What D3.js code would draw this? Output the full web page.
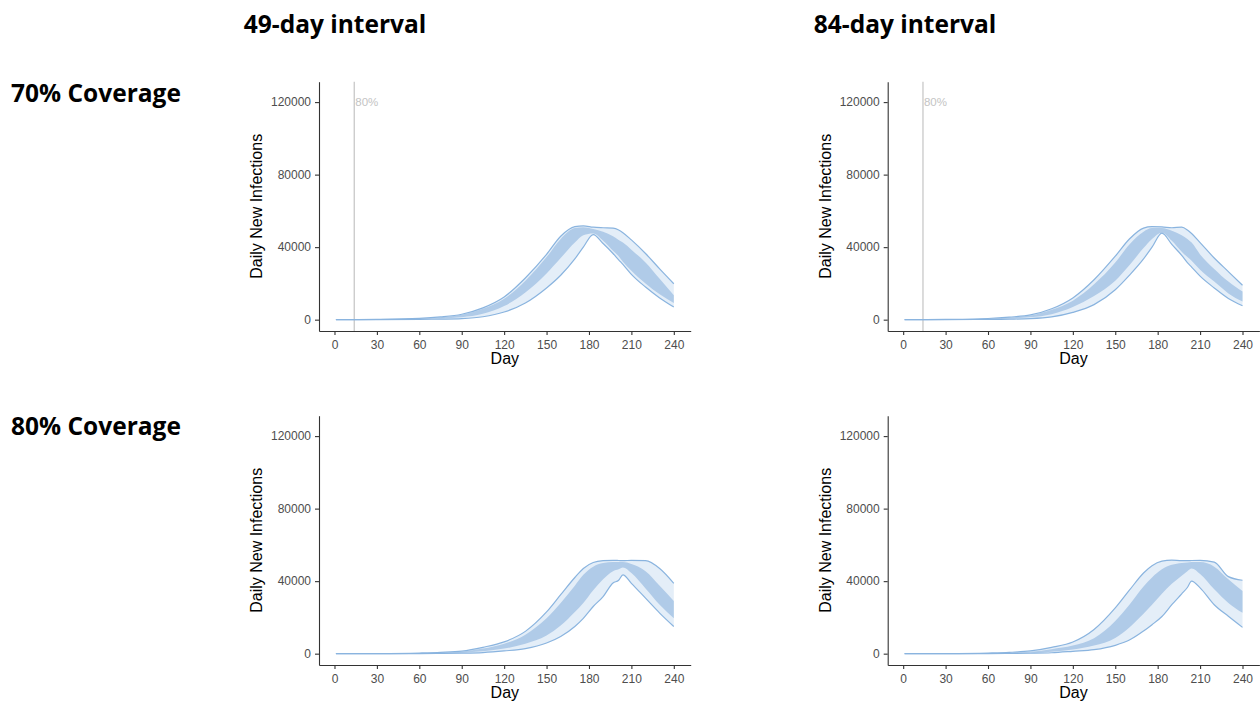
<!DOCTYPE html>
<html>
<head>
<meta charset="utf-8">
<script src="https://cdn.jsdelivr.net/npm/d3@7"></script>
<style>
  body { margin: 0; background: #fff; }
  svg { display: block; }
</style>
</head>
<body>
<div id="chart"></div>
<script>
// day grid shared by all panels
const days = [1, 30, 60, 75, 90, 105, 120, 135, 150, 160, 170, 176, 183, 190, 197, 201, 204, 210, 220, 230, 240]

const colTitles = ["49-day interval", "84-day interval"]
const rowTitles = ["70% Coverage", "80% Coverage"]
const xTicks = [0, 30, 60, 90, 120, 150, 180, 210, 240]
const yTicks = [0, 40000, 80000, 120000]
const markerDay = 14
const markerLabel = "80%"

// 70% coverage, 49-day interval
const c70i49OuterHi = [0, 150, 700, 1500, 3000, 6500, 12500, 23000, 36000, 46000, 51300, 51700, 51000, 50700, 50500, 49500, 48000, 44000, 36500, 28000, 19800]
const c70i49OuterLo = [0, 30, 150, 300, 600, 1600, 4200, 9200, 17500, 24500, 33500, 40000, 46900, 42000, 36500, 33000, 30500, 25000, 18000, 12000, 7000]
const c70i49InnerHi = [0, 120, 600, 1300, 2700, 6000, 11500, 21500, 34500, 44500, 50500, 51000, 50000, 48500, 46000, 44000, 42500, 38600, 31500, 22500, 13400]
const c70i49InnerLo = [0, 60, 300, 600, 1300, 3200, 7500, 15000, 25500, 34000, 42500, 46500, 47500, 43500, 38000, 35000, 32000, 27000, 20000, 14000, 9200]

// 70% coverage, 84-day interval
const c70i84OuterHi = [0, 150, 650, 1400, 2600, 6000, 12000, 22000, 35000, 44500, 50500, 51300, 51200, 50700, 51000, 49500, 47500, 42500, 34000, 26500, 19000]
const c70i84OuterLo = [0, 30, 140, 280, 550, 1500, 4000, 8300, 16500, 24500, 33500, 40000, 47700, 41500, 35500, 31500, 29000, 24000, 17500, 11700, 7700]
const c70i84InnerHi = [0, 110, 550, 1200, 2300, 5500, 10500, 19500, 31500, 41500, 48500, 50500, 50500, 49000, 46500, 44500, 42500, 36000, 28000, 21000, 15500]
const c70i84InnerLo = [0, 60, 300, 650, 1300, 3000, 7000, 13000, 21500, 30000, 39500, 44500, 48000, 43500, 37500, 34500, 32500, 27500, 21000, 14500, 10000]

// 80% coverage, 49-day interval
const c80i49OuterHi = [0, 60, 350, 700, 1400, 3500, 6500, 12300, 23000, 32500, 42000, 47000, 50300, 51300, 51500, 51400, 51300, 51500, 51300, 47000, 38800]
const c80i49OuterLo = [0, 10, 60, 120, 250, 600, 1500, 2800, 5900, 9500, 15000, 19500, 26000, 31500, 39000, 40500, 43500, 38800, 30600, 22400, 15000]
const c80i49InnerHi = [0, 40, 250, 500, 1100, 2800, 5500, 10500, 19500, 28000, 37500, 43500, 48000, 50000, 50500, 50500, 50500, 49500, 45500, 37500, 29000]
const c80i49InnerLo = [0, 20, 120, 250, 550, 1300, 2800, 5500, 10000, 15500, 23000, 28000, 35000, 41000, 45500, 46500, 47500, 44500, 36000, 27000, 19500]

// 80% coverage, 84-day interval
const c80i84OuterHi = [0, 60, 350, 700, 1500, 3500, 6400, 13300, 25200, 35000, 44500, 48500, 51000, 51600, 51300, 51300, 51400, 51500, 50500, 42500, 40500]
const c80i84OuterLo = [0, 10, 50, 100, 220, 500, 1300, 2200, 4600, 7500, 12500, 16000, 20500, 27000, 33000, 36500, 40000, 36300, 27000, 20600, 14500]
const c80i84InnerHi = [0, 40, 250, 500, 1000, 2500, 4500, 8500, 18000, 27000, 37000, 42000, 46500, 49000, 50000, 50300, 50500, 50500, 48000, 41000, 34500]
const c80i84InnerLo = [0, 15, 90, 200, 450, 1100, 2300, 4500, 8700, 14500, 22000, 27000, 33000, 38500, 43000, 45500, 47000, 44000, 35500, 28000, 22500]

const panels = [
  {row: 0, col: 0, marker: true, oHi: c70i49OuterHi, oLo: c70i49OuterLo, iHi: c70i49InnerHi, iLo: c70i49InnerLo},
  {row: 0, col: 1, marker: true, oHi: c70i84OuterHi, oLo: c70i84OuterLo, iHi: c70i84InnerHi, iLo: c70i84InnerLo},
  {row: 1, col: 0, marker: false, oHi: c80i49OuterHi, oLo: c80i49OuterLo, iHi: c80i49InnerHi, iLo: c80i49InnerLo},
  {row: 1, col: 1, marker: false, oHi: c80i84OuterHi, oLo: c80i84OuterLo, iHi: c80i84InnerHi, iLo: c80i84InnerLo},
]

const W = 1260, H = 702
const PW = 371.7, PH = 249.3          // panel plot size
const PX = [319, 887.7], PY = [81.7, 415.7]

const svg = d3.select("#chart").append("svg")
  .attr("width", W).attr("height", H)

// column and row titles
const titleFont = "'Open Sans', Lato, sans-serif"
colTitles.forEach((t, i) => {
  svg.append("text")
    .attr("x", [335, 905][i]).attr("y", 32.7)
    .attr("text-anchor", "middle")
    .attr("font-family", titleFont).attr("font-weight", 700)
    .attr("font-size", 24.5)
    .text(t)
})
rowTitles.forEach((t, i) => {
  svg.append("text")
    .attr("x", 11).attr("y", [101.7, 434.7][i])
    .attr("font-family", titleFont).attr("font-weight", 700)
    .attr("font-size", 24.5)
    .text(t)
})

// scales (ggplot-like 5% expansion)
const x = d3.scaleLinear().domain([-10.95, 251.95]).range([0, PW])
const y = d3.scaleLinear().domain([-6250, 131250]).range([PH, 0])

const axisFont = "'Liberation Sans', Arial, sans-serif"

panels.forEach(p => {
  const g = svg.append("g")
    .attr("transform", `translate(${PX[p.col]}, ${PY[p.row]})`)

  const rows = days.map((d, i) => ({d, oHi: p.oHi[i], oLo: p.oLo[i], iHi: p.iHi[i], iLo: p.iLo[i]}))

  if (p.marker) {
    g.append("line")
      .attr("x1", x(markerDay)).attr("x2", x(markerDay))
      .attr("y1", 0).attr("y2", PH)
      .attr("stroke", "#cccccc").attr("stroke-width", 1.4)
    g.append("text")
      .attr("x", x(markerDay) + 1).attr("y", y(120000))
      .attr("dy", "0.38em")
      .attr("font-family", axisFont).attr("font-size", 11.5)
      .attr("fill", "#c4c4c4")
      .text(markerLabel)
  }

  const outerArea = d3.area().curve(d3.curveMonotoneX)
    .x(d => x(d.d)).y0(d => y(d.oLo)).y1(d => y(d.oHi))
  const innerArea = d3.area().curve(d3.curveMonotoneX)
    .x(d => x(d.d)).y0(d => y(d.iLo)).y1(d => y(d.iHi))

  g.append("path").datum(rows).attr("d", outerArea).attr("fill", "#e4eef8")
  g.append("path").datum(rows).attr("d", innerArea).attr("fill", "#b0cbe8")

  const hiLine = d3.line().curve(d3.curveMonotoneX).x(d => x(d.d)).y(d => y(d.oHi))
  const loLine = d3.line().curve(d3.curveMonotoneX).x(d => x(d.d)).y(d => y(d.oLo))
  ;[hiLine, loLine].forEach(l => {
    g.append("path").datum(rows).attr("d", l)
      .attr("fill", "none").attr("stroke", "#8ab4df").attr("stroke-width", 1.2)
  })

  // axes
  const xAxis = g.append("g").attr("transform", `translate(0, ${PH})`)
    .call(d3.axisBottom(x).tickValues(xTicks).tickSize(4).tickSizeOuter(0).tickPadding(5.5))
  const yAxis = g.append("g")
    .call(d3.axisLeft(y).tickValues(yTicks).tickSize(4).tickSizeOuter(0).tickPadding(4).tickFormat(d3.format("d")))
  ;[xAxis, yAxis].forEach(a => {
    a.select(".domain").attr("stroke", "#333").attr("stroke-width", 1.1)
    a.selectAll(".tick line").attr("stroke", "#333").attr("stroke-width", 1.1)
    a.selectAll(".tick text").attr("fill", "#4d4d4d")
      .attr("font-family", axisFont).attr("font-size", 12)
  })

  // axis titles
  g.append("text")
    .attr("x", PW / 2).attr("y", PH + 33.5)
    .attr("text-anchor", "middle")
    .attr("font-family", axisFont).attr("font-size", 16)
    .text("Day")
  g.append("text")
    .attr("transform", `translate(-57, ${PH / 2}) rotate(-90)`)
    .attr("text-anchor", "middle")
    .attr("font-family", axisFont).attr("font-size", 16)
    .text("Daily New Infections")
})
</script>
</body>
</html>
